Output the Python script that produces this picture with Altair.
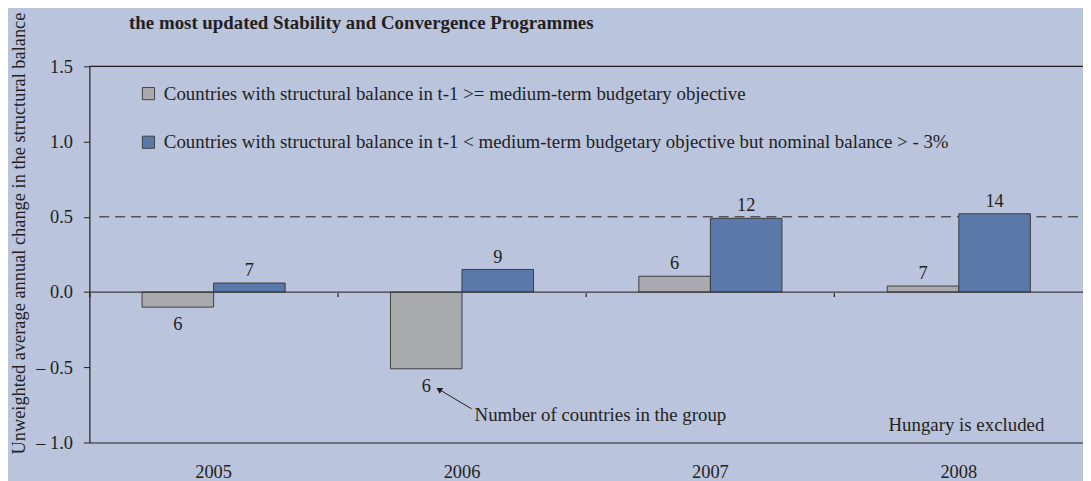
import altair as alt
import pandas as pd

# ---- data ----
years = ["2005", "2006", "2007", "2008"]
series_names = [
    "Countries with structural balance in t-1 >= medium-term budgetary objective",
    "Countries with structural balance in t-1 < medium-term budgetary objective but nominal balance > - 3%",
]
above_mto_change = [-0.10, -0.51, 0.105, 0.04]
below_mto_change = [0.06, 0.15, 0.49, 0.52]
above_mto_count = [6, 6, 6, 7]
below_mto_count = [7, 9, 12, 14]
reference_level = [0.5]
zero_level = [0.0]
top_level = [1.5]
y_title = "Unweighted average annual change in the structural balance"
chart_title = "the most updated Stability and Convergence Programmes"
arrow_note = "Number of countries in the group"
hungary_note = "Hungary is excluded"

colors = ["#A9AAAE", "#5A78AA"]
ink = "#231F20"
FONT = "Liberation Serif"
FS = 19

rows = []
for i, y in enumerate(years):
    rows.append({"year": y, "series": series_names[0], "value": above_mto_change[i], "count": above_mto_count[i]})
    rows.append({"year": y, "series": series_names[1], "value": below_mto_change[i], "count": below_mto_count[i]})
df = pd.DataFrame(rows)

W, H = 1001, 379
yscale = alt.Scale(domain=[-1.0, 1.5], nice=False, zero=False)
yaxis = alt.Axis(
    values=[-1.0, -0.5, 0.0, 0.5, 1.0, 1.5],
    labelExpr="datum.value < 0 ? '\u2013 ' + format(abs(datum.value), '.1f') : format(datum.value, '.1f')",
    grid=False, tickSize=6, tickColor=ink, domainColor=ink, domainWidth=1.2,
    labelPadding=11, labelFontSize=18.5, labelColor=ink, labelFont=FONT,
    title=y_title, titleFontSize=18.5, titleFont=FONT, titleFontWeight="normal", titleColor=ink,
    titleAngle=-90, titleX=-71, titleY=168, titleAlign="center", titleBaseline="middle",
)
xscale = alt.Scale(paddingInner=0, paddingOuter=0)
xoff = alt.XOffset("series:N", sort=series_names, scale=alt.Scale(paddingOuter=0.736, paddingInner=0))

bars = alt.Chart(df).mark_bar(stroke="#3C3C3C", strokeWidth=1).encode(
    x=alt.X("year:N", sort=years, scale=xscale,
            axis=alt.Axis(title=None, ticks=False, labelAngle=0, labelFontSize=18.5, labelFont=FONT,
                          labelColor=ink, labelPadding=20, domainColor=ink, domainWidth=1.2)),
    xOffset=xoff,
    y=alt.Y("value:Q", scale=yscale, axis=yaxis),
    color=alt.Color("series:N", sort=series_names,
                    scale=alt.Scale(domain=series_names, range=colors),
                    legend=alt.Legend(title=None, orient="none", legendX=50, legendY=18,
                                      symbolType="square", symbolSize=150, symbolStrokeColor="#444444",
                                      symbolStrokeWidth=1, symbolOpacity=1, labelFontSize=FS,
                                      labelFont=FONT, labelColor=ink, rowPadding=29, labelLimit=1000,
                                      symbolOffset=0, labelOffset=6)),
)

pos_labels = alt.Chart(df).transform_filter("datum.value >= 0").mark_text(
    baseline="alphabetic", dy=-7, fontSize=18.5, font=FONT, color=ink
).encode(
    x=alt.X("year:N", sort=years, scale=xscale, axis=None),
    xOffset=xoff,
    y=alt.Y("value:Q", scale=yscale, axis=yaxis),
    text="count:Q",
)

neg_labels = alt.Chart(df).transform_filter("datum.value < 0").mark_text(
    baseline="top", dy=8, fontSize=18.5, font=FONT, color=ink
).encode(
    x=alt.X("year:N", sort=years, scale=xscale,
            axis=alt.Axis(orient="top", offset=-232, tickSize=4, bandPosition=0, labels=False,
                          domain=False, title=None, tickColor=ink, tickWidth=1.2)),
    xOffset=xoff,
    y=alt.Y("value:Q", scale=yscale, axis=yaxis),
    text="count:Q",
)

top_rule = alt.Chart(pd.DataFrame({"v": top_level})).mark_rule(color=ink, strokeWidth=1.2).encode(
    y=alt.Y("v:Q", scale=yscale, axis=yaxis))
zero_rule = alt.Chart(pd.DataFrame({"v": zero_level})).mark_rule(color="#3A3A3A", strokeWidth=1.2).encode(
    y=alt.Y("v:Q", scale=yscale, axis=yaxis))
ref_rule = alt.Chart(pd.DataFrame({"v": reference_level})).mark_rule(
    color=ink, strokeWidth=1, strokeDash=[10, 6]).encode(
    y=alt.Y("v:Q", scale=yscale, axis=yaxis), x=alt.value(10), x2=alt.value(W))

arrow_line = alt.Chart(pd.DataFrame({"a": [1]})).mark_rule(color=ink, strokeWidth=1).encode(
    x=alt.value(385), y=alt.value(345), x2=alt.value(353), y2=alt.value(326))
arrow_head = alt.Chart(pd.DataFrame({"a": [1]})).mark_point(
    shape="triangle", angle=301, filled=True, color=ink, size=45, opacity=1).encode(
    x=alt.value(353), y=alt.value(326))
note1 = alt.Chart(pd.DataFrame({"t": [arrow_note]})).mark_text(
    align="left", baseline="alphabetic", fontSize=FS, font=FONT, color=ink).encode(
    x=alt.value(388), y=alt.value(357), text="t:N")
note2 = alt.Chart(pd.DataFrame({"t": [hungary_note]})).mark_text(
    align="left", baseline="alphabetic", fontSize=FS, font=FONT, color=ink).encode(
    x=alt.value(805), y=alt.value(367), text="t:N")
title_txt = alt.Chart(pd.DataFrame({"t": [chart_title]})).mark_text(
    align="left", baseline="alphabetic", fontSize=19, font=FONT, fontWeight="bold", color=ink).encode(
    x=alt.value(40), y=alt.value(-38), text="t:N")

chart = alt.layer(
    ref_rule, bars, zero_rule, top_rule, pos_labels, neg_labels,
    arrow_line, arrow_head, note1, note2, title_txt,
).resolve_axis(x="independent").properties(
    width=W, height=H,
    padding={"left": 82, "top": 57, "right": 0, "bottom": 37},
    autosize="none",
    background="#BAC4DD",
).configure(font=FONT).configure_view(stroke=None)

chart.save("out.html", embed_options={"renderer": "svg", "actions": False})
